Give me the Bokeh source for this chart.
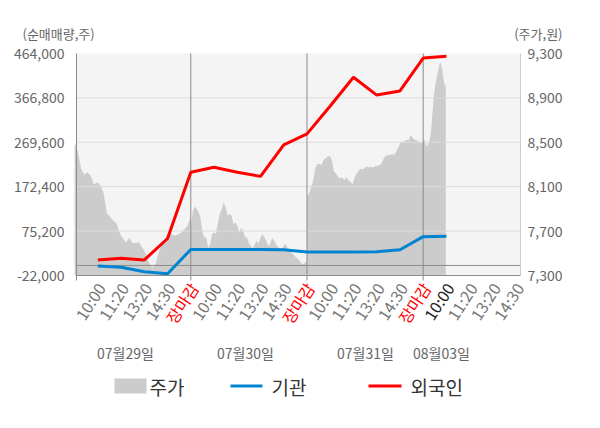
import numpy as np
from bokeh.plotting import figure
from bokeh.models import Range1d, LinearAxis, FixedTicker
from bokeh.embed import file_html
from bokeh.resources import INLINE
from bokeh.core.properties import value

# ---------------- data ----------------
slot_labels = ["10:00", "11:20", "13:20", "14:30", "장마감",
               "10:00", "11:20", "13:20", "14:30", "장마감",
               "10:00", "11:20", "13:20", "14:30", "장마감",
               "10:00", "11:20", "13:20", "14:30"]
current_slot = 16
dates = ["07월29일", "07월30일", "07월31일", "08월03일"]

# net buying (shares), one value per slot 1..16
foreign = [12000, 16000, 12000, 59000, 204000, 215000, 204000, 195000,
           264000, 288000, 349000, 412000, 373000, 382000, 454000, 458000]
institution = [-1000, -4000, -14000, -18000, 35000, 35000, 35000, 35000,
               34500, 29500, 29500, 29500, 30000, 34500, 63000, 64000]

# intraday price (won), equally spaced samples per day
price_d1 = [8498, 8420, 8265, 8210, 8230, 8200, 8120, 8140, 8113, 8040, 7860, 7830,
            7790, 7770, 7680, 7630, 7600, 7640, 7591, 7596, 7600, 7551, 7500, 7420,
            7368, 7399, 7500, 7590, 7625, 7680, 7673, 7657, 7670, 7685, 7715, 7750, 7830]
price_d2 = [7733, 7870, 7921, 7900, 7870, 7824, 7687, 7642, 7642, 7551, 7582, 7673,
            7687, 7673, 7778, 7855, 7900, 7961, 7915, 7839, 7855, 7839, 7764, 7778,
            7748, 7687, 7727, 7703, 7642, 7642, 7596, 7566, 7545, 7582, 7612, 7587,
            7642, 7673, 7642, 7612, 7566, 7582, 7642, 7612, 7582, 7557, 7545, 7536,
            7566, 7587, 7545, 7536, 7505, 7490, 7469, 7454, 7436, 7414, 7399, 7414, 7430]
price_d3 = [8022, 8037, 8097, 8158, 8265, 8304, 8304, 8295, 8341, 8356, 8371, 8377,
            8341, 8234, 8219, 8188, 8174, 8183, 8158, 8188, 8158, 8143, 8122, 8188,
            8219, 8249, 8265, 8256, 8274, 8280, 8274, 8280, 8274, 8286, 8289, 8295,
            8311, 8356, 8377, 8386, 8386, 8392, 8386, 8416, 8456, 8493, 8507, 8507,
            8523, 8517, 8568, 8538, 8523, 8517, 8507, 8493, 8507]
price_d4 = [8523, 8523, 8477, 8462, 8493, 8523, 8614, 8766, 8917, 9008, 9070, 9131,
            9191, 9222, 9176, 9100, 9024, 9008]
day4_fraction = 0.194   # share of the 4th day's span already traded

left_ticks = [-22000, 75200, 172400, 269600, 366800, 464000]
right_ticks = [7300, 7700, 8100, 8500, 8900, 9300]
day_bounds = [5, 10, 15]
legend_names = ["주가", "기관", "외국인"]
y_titles = ["(순매매량,주)", "(주가,원)"]

# ---------------- layout constants (pixels of the 600x428 canvas) ----------------
FONT = "Noto Sans CJK KR"
W, H = 600, 428
FL, FR, FT, FB = 76, 520, 53, 275        # chart area edges
K0, K1 = 0.082, 19.187
YMIN, YMAX = left_ticks[0], left_ticks[-1]
PMIN, PMAX = right_ticks[0], right_ticks[-1]
SLOTS_PER_DAY = 5
GRAY_TXT = "#666666"
AXIS = "#8c8c8c"
AREA = "#cccccc"
BLUE = "#0084d1"
RED = "#ff0000"
TICK_PX = "14px"
SLOT_PX = "16px"
SLOT_ANGLE = 57


def xpx(px):
    return K0 + (px - FL) * (K1 - K0) / (FR - FL)


def ypx(py):
    return YMIN + (FB - py) * (YMAX - YMIN) / (FB - FT)


def ppx(py):
    return PMIN + (FB - py) * (PMAX - PMIN) / (FB - FT)


p = figure(width=W, height=H, output_backend="svg", toolbar_location=None,
           x_range=Range1d(xpx(0), xpx(W)), y_range=Range1d(ypx(H), ypx(0)),
           min_border_left=0, min_border_right=0, min_border_top=0, min_border_bottom=0)
p.extra_y_ranges = {"price": Range1d(ppx(H), ppx(0))}
p.background_fill_color = "white"
p.border_fill_color = "white"
p.outline_line_color = None
p.grid.visible = False

# chart background
p.quad(left=[K0], right=[K1], bottom=[YMIN], top=[YMAX], fill_color="#f4f4f4",
       line_color=None, level="image")

# price area
xs, ys = [], []
for d, arr in enumerate([price_d1, price_d2, price_d3]):
    xs.extend(np.linspace(SLOTS_PER_DAY * d, SLOTS_PER_DAY * (d + 1), len(arr)))
    ys.extend(arr)
d4_start = SLOTS_PER_DAY * 3
xs.extend(np.linspace(d4_start, d4_start + SLOTS_PER_DAY * day4_fraction, len(price_d4)))
ys.extend(price_d4)
p.varea(x=xs, y1=PMIN, y2=ys, y_range_name="price", fill_color=AREA, level="image")

# grid lines, day separators, zero line
inner = left_ticks[1:-1]
p.segment(x0=[K0] * len(inner), x1=[K1] * len(inner), y0=inner, y1=inner,
          line_color="#dcdcdc", line_width=1, level="underlay")
p.segment(x0=day_bounds, x1=day_bounds, y0=[ypx(FB + 5)] * 3, y1=[YMAX] * 3,
          line_color=AXIS, line_width=1, level="underlay")
p.segment(x0=[K0], x1=[K1], y0=[0], y1=[0], line_color=AXIS, line_width=1, level="underlay")

# series
slots = np.arange(1, len(foreign) + 1)
p.line(slots, institution, line_color=BLUE, line_width=3)
p.line(slots, foreign, line_color=RED, line_width=3)

# axes lines (drawn at the chart edges); their tick labels are drawn below as text


def style_axis(ax, color):
    ax.ticker = FixedTicker(ticks=[])
    ax.axis_line_color = color
    ax.major_tick_line_color = None
    ax.minor_tick_line_color = None
    ax.major_tick_out = 0
    ax.minor_tick_out = 0
    ax.major_label_standoff = 0


for ax in p.xaxis:
    ax.fixed_location = YMIN
    ax.bounds = (K0, K1)
    style_axis(ax, AXIS)
for ax in p.yaxis:
    ax.fixed_location = K0
    ax.bounds = (ypx(FB + 5), YMAX)
    style_axis(ax, AXIS)
ra = LinearAxis(y_range_name="price", fixed_location=K1, bounds=(PMIN, PMAX))
style_axis(ra, "#cccccc")
p.add_layout(ra, "right")

# tick labels of both value axes
p.text(x=[K0] * len(left_ticks), y=left_ticks, text=[f"{v:,}" for v in left_ticks],
       x_offset=-12, text_align="right", text_baseline="middle",
       text_font=value(FONT), text_font_size=TICK_PX, text_color=GRAY_TXT)
p.text(x=[K1] * len(right_ticks), y=right_ticks, text=[f"{v:,}" for v in right_ticks],
       y_range_name="price", x_offset=7, text_align="left", text_baseline="middle",
       text_font=value(FONT), text_font_size=TICK_PX, text_color=GRAY_TXT)

# axis titles
p.text(x=[xpx(22)], y=[ypx(33)], text=[y_titles[0]], text_align="left",
       text_baseline="middle", text_font=value(FONT), text_font_size="13px",
       text_color=GRAY_TXT)
p.text(x=[xpx(562)], y=[ypx(33)], text=[y_titles[1]], text_align="right",
       text_baseline="middle", text_font=value(FONT), text_font_size="13px",
       text_color=GRAY_TXT)

# rotated slot labels
colors = []
for i, t in enumerate(slot_labels):
    if t == "장마감":
        colors.append(RED)
    elif i + 1 == current_slot:
        colors.append("#222222")
    else:
        colors.append("#777777")
p.text(x=np.arange(1, len(slot_labels) + 1), y=[ypx(284)] * len(slot_labels),
       text=slot_labels, text_color=colors, angle=float(np.radians(SLOT_ANGLE)), x_offset=3,
       text_align="right", text_baseline="middle",
       text_font=value(FONT), text_font_size=SLOT_PX)

# date labels
date_px = [125, 245, 365, 441]
p.text(x=[xpx(v) for v in date_px], y=[ypx(352)] * len(dates), text=dates,
       text_align="center", text_baseline="middle", text_font=value(FONT),
       text_font_size="14px", text_color=GRAY_TXT)

# legend
p.quad(left=[xpx(114)], right=[xpx(146)], top=[ypx(378)], bottom=[ypx(393)],
       fill_color=AREA, line_color=None)
for (a, b), c in zip([(230, 262), (368, 401)], [BLUE, RED]):
    p.line(x=[xpx(a), xpx(b)], y=[ypx(385.5)] * 2, line_color=c, line_width=3)
p.text(x=[xpx(v) for v in [149, 271, 410]], y=[ypx(386)] * 3, text=legend_names,
       text_align="left", text_baseline="middle", text_font=value(FONT),
       text_font_size="19px", text_color="#333333")

open("out.html", "w").write(file_html(p, INLINE))
